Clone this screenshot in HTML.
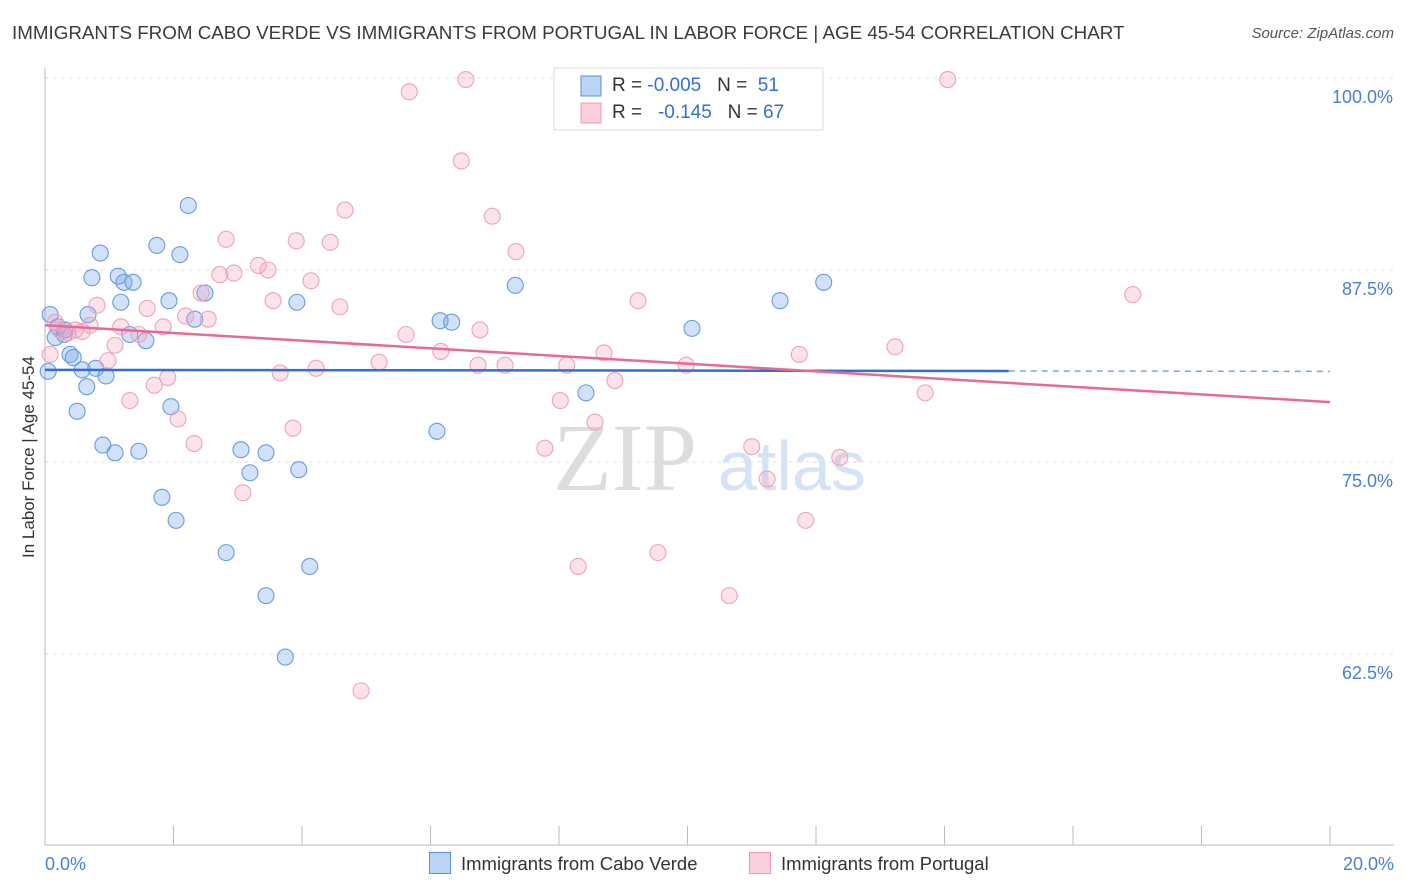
<!DOCTYPE html>
<html><head><meta charset="utf-8"><style>
body{margin:0;background:#fff;font-family:"Liberation Sans",sans-serif;}
#wrap{position:relative;width:1406px;height:892px;overflow:hidden;}
.t{position:absolute;white-space:nowrap;}
</style></head><body>
<div id="wrap">
<div class="t" style="left:12px;top:22px;font-size:18.8px;color:#3a3a3a;">IMMIGRANTS FROM CABO VERDE VS IMMIGRANTS FROM PORTUGAL IN LABOR FORCE | AGE 45-54 CORRELATION CHART</div>
<div class="t" style="right:12px;top:25px;font-size:15px;color:#555;font-style:italic;">Source: ZipAtlas.com</div>
<svg id="svg" width="1406" height="892" style="position:absolute;left:0;top:0"></svg>
</div>
<script>
const xTickLabels=["0.0%","20.0%"];
const yTicks=[100,87.5,75,62.5];
const blueX=[.05,.08,.16,.2,.3,.31,.39,.44,.5,.58,.65,.67,.73,.79,.86,.9,.95,1.09,1.14,1.18,1.23,1.32,1.37,1.46,1.57,1.74,1.82,1.93,1.96,2.04,2.1,2.23,2.33,2.49,2.82,3.05,3.19,3.44,3.44,3.74,3.92,3.95,4.12,6.1,6.15,6.33,7.32,8.42,10.07,11.44,12.12];
const blueY=[80.9,84.6,83.1,83.8,83.3,83.6,82.0,81.8,78.3,81.0,79.9,84.6,87.0,81.1,88.6,76.1,80.6,75.6,87.1,85.4,86.7,83.3,86.7,75.7,82.9,89.1,72.7,85.5,78.6,71.2,88.5,91.7,84.3,86.0,69.1,75.8,74.3,75.6,66.3,62.3,85.4,74.5,68.2,77.0,84.2,84.1,86.5,79.5,83.7,85.5,86.7];
const pinkX=[.08,.16,.23,.36,.47,.58,.7,.81,.98,1.09,1.18,1.32,1.46,1.59,1.7,1.84,1.91,2.07,2.19,2.32,2.43,2.54,2.72,2.82,2.94,3.08,3.32,3.47,3.55,3.66,3.86,3.91,4.14,4.22,4.44,4.59,4.67,4.92,5.2,5.62,5.67,6.16,6.48,6.55,6.74,6.77,6.96,7.16,7.33,7.78,8.02,8.12,8.3,8.56,8.7,8.87,9.23,9.54,9.98,10.65,11.0,11.24,11.74,11.84,12.37,13.23,13.7,14.05,16.93];
const pinkY=[82.0,84.1,83.6,83.4,83.6,83.5,83.9,85.2,81.6,82.6,83.8,79.0,83.3,85.0,80.0,83.8,80.5,77.8,84.5,76.2,86.0,84.3,87.2,89.5,87.3,73.0,87.8,87.5,85.5,80.8,77.2,89.4,86.8,81.1,89.3,85.1,91.4,60.1,81.5,83.3,99.1,82.2,94.6,99.9,81.3,83.6,91.0,81.3,88.7,75.9,79.0,81.3,68.2,77.6,82.1,80.3,85.5,69.1,81.3,66.3,76.0,73.9,82.0,71.2,75.3,82.5,79.5,99.9,85.9];
const blueTrend=[81.0,80.9];
const pinkTrend=[83.9,78.9];
const X=v=>45+v/20*1285;
const Y=v=>78+(100-v)/12.5*192;
const svg=document.getElementById('svg');
const NS='http://www.w3.org/2000/svg';
function el(tag,attrs,parent){const e=document.createElementNS(NS,tag);for(const k in attrs)e.setAttribute(k,attrs[k]);(parent||svg).appendChild(e);return e;}
yTicks.forEach(t=>{
 const g=el('line',{x1:45,x2:1394,y1:Y(t),y2:Y(t),stroke:'#ddd','stroke-dasharray':'4,4'});
 
 
 const tx=el('text',{x:1393,y:Y(t)+25,'text-anchor':'end','font-size':18,fill:'#4a7fd6','font-family':'Liberation Sans'});
 tx.textContent=(t===100?'100.0':t.toFixed(1))+'%';
 
 
});
const ax=el('line',{x1:45,x2:1394,y1:845,y2:845,stroke:'#bbb'});


const ay=el('line',{x1:45,x2:45,y1:68,y2:845,stroke:'#bbb'});


for(let i=0;i<=10;i++){const tk=el('line',{x1:X(i*2),x2:X(i*2),y1:826,y2:845,stroke:'#bbb'});
 
 }
[[0,'start',45],[1,'end',1394]].forEach(([i,a,x])=>{const tx=el('text',{x:x,y:870,'text-anchor':a,'font-size':18,fill:'#4a7fd6','font-family':'Liberation Sans'});tx.textContent=xTickLabels[i];
 
 });
const yt=el('text',{x:34,y:457,'text-anchor':'middle','font-size':17,fill:'#333','font-family':'Liberation Sans',transform:'rotate(-90 34 457)'});
yt.textContent='In Labor Force | Age 45-54';


const wm=el('text',{x:553,y:490,'font-size':96,fill:'#ddd','font-family':'Liberation Serif'});wm.textContent='ZIP';


const wm2=el('text',{x:718,y:490,'font-size':70,fill:'#d5e3f5','font-family':'Liberation Sans'});wm2.textContent='atlas';


blueX.forEach((x,i)=>{const c=el('circle',{cx:X(x),cy:Y(blueY[i]),r:8,fill:'rgba(120,170,235,0.35)',stroke:'#6a9be0','stroke-width':1.1});
 
 });
pinkX.forEach((x,i)=>{const c=el('circle',{cx:X(x),cy:Y(pinkY[i]),r:8,fill:'rgba(245,160,185,0.3)',stroke:'#efa2bb','stroke-width':1.1});
 
 });
const bmid=blueTrend[0]+(blueTrend[1]-blueTrend[0])*15/20;
const bl=el('line',{x1:X(0),y1:Y(blueTrend[0]),x2:X(15),y2:Y(bmid),stroke:'#2f6fd6','stroke-width':2.5});


const bd=el('line',{x1:X(15),y1:Y(bmid),x2:X(20),y2:Y(blueTrend[1]),stroke:'#7aa5e0','stroke-width':1.5,'stroke-dasharray':'6,5'});


const pl=el('line',{x1:X(0),y1:Y(pinkTrend[0]),x2:X(20),y2:Y(pinkTrend[1]),stroke:'#e86a93','stroke-width':2.5});


const lg=el('rect',{x:554,y:68,width:269,height:62,fill:'#fff',stroke:'#ddd'});


const sw1=el('rect',{x:581,y:76,width:20,height:20,fill:'rgba(120,170,235,0.5)',stroke:'#5b8fd9'});


const sw2=el('rect',{x:581,y:103,width:20,height:20,fill:'rgba(245,160,185,0.5)',stroke:'#ef9ab5'});


</script>
<div class="t" style="left:612px;top:75px;font-size:19px;color:#333;">R = <span style="color:#2f6fd6">-0.005</span>&nbsp;&nbsp;&nbsp;N = &nbsp;<span style="color:#2f6fd6">51</span></div>
<div class="t" style="left:612px;top:102px;font-size:19px;color:#333;">R = &nbsp;&nbsp;<span style="color:#2f6fd6">-0.145</span>&nbsp;&nbsp;&nbsp;N = <span style="color:#2f6fd6">67</span></div>
<div class="t" style="left:429px;top:852px;font-size:18.5px;color:#333;"><span style="display:inline-block;width:20px;height:20px;background:rgba(120,170,235,0.5);border:1px solid #5b8fd9;vertical-align:-4px;margin-right:10px"></span>Immigrants from Cabo Verde</div>
<div class="t" style="left:749px;top:852px;font-size:18.5px;color:#333;"><span style="display:inline-block;width:20px;height:20px;background:rgba(245,160,185,0.5);border:1px solid #ef9ab5;vertical-align:-4px;margin-right:10px"></span>Immigrants from Portugal</div>
</body></html>
